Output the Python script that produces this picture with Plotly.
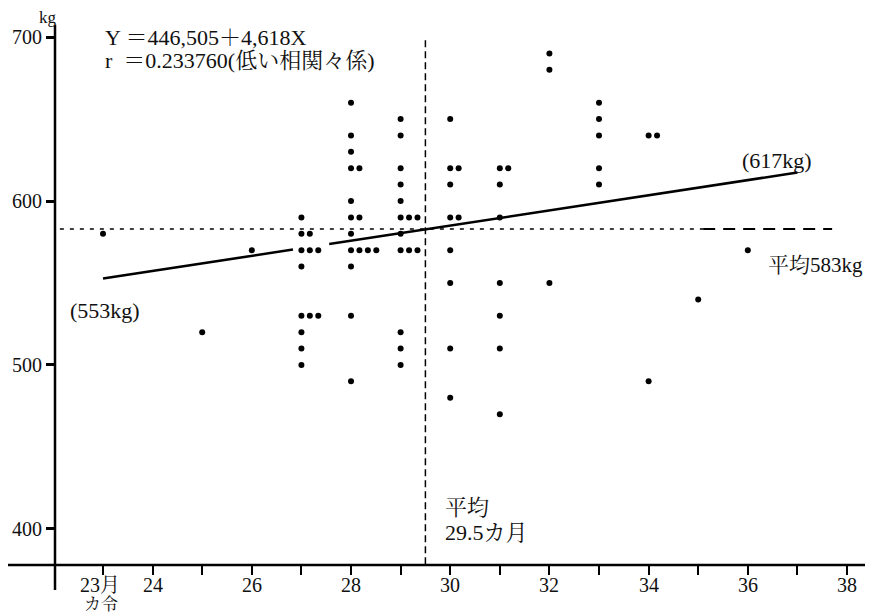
import plotly.graph_objects as go

# ---- data ----
age_months = (
    [23, 25, 26]
    + [27] * 13
    + [28] * 16
    + [29] * 15
    + [30] * 10
    + [31] * 8
    + [32] * 3
    + [33] * 5
    + [34] * 3
    + [35, 36]
)
weight_kg = (
    [580, 520, 570]
    + [590, 580, 580, 570, 570, 570, 560, 530, 530, 530, 520, 510, 500]
    + [660, 640, 630, 620, 620, 600, 590, 590, 580, 570, 570, 570, 570, 560, 530, 490]
    + [650, 640, 620, 610, 600, 590, 590, 590, 580, 570, 570, 570, 520, 510, 500]
    + [650, 620, 620, 610, 590, 590, 570, 550, 510, 480]
    + [620, 620, 610, 590, 550, 530, 510, 470]
    + [690, 680, 550]
    + [660, 650, 640, 620, 610]
    + [640, 640, 490]
    + [540, 570]
)
reg_intercept = 446.505
reg_slope = 4.618
reg_x_segments = [[23, 26.83], [27.56, 37]]
mean_age = 29.5
mean_weight = 583
x_tick_vals = list(range(23, 39))
x_label_vals = [23, 24, 26, 28, 30, 32, 34, 36, 38]
x_label_text = ["23月", "24", "26", "28", "30", "32", "34", "36", "38"]
x_unit_text = "カ令"
y_tick_vals = [400, 500, 600, 700]

FONT = "Liberation Serif, Noto Serif CJK JP, Noto Sans CJK JP, serif"

# page offset (default body margin of the html page) compensated in the figure size
W, H = 865, 607
L, T, B = 47, 22, 50
PH = H - T - B  # plot height
PW = W - L      # plot width

# side-by-side placement of identical values (as drawn in the original)
seen = {}
px = []
for m, w in zip(age_months, weight_kg):
    k = seen.get((m, w), 0)
    seen[(m, w)] = k + 1
    px.append(m + 0.17 * k)

fig = go.Figure()

# regression line (drawn with a small break like the original)
rx, ry = [], []
for a, b in reg_x_segments:
    rx += [a, b, None]
    ry += [reg_intercept + reg_slope * a, reg_intercept + reg_slope * b, None]
fig.add_trace(go.Scatter(x=rx, y=ry, mode="lines", line=dict(color="black", width=2.5),
                         hoverinfo="skip", connectgaps=False))

# mean weight line: fine dashes then coarse dashes
fig.add_trace(go.Scatter(x=[22.13, 35.1], y=[mean_weight, mean_weight], mode="lines",
                         line=dict(color="black", width=1.5, dash="4px,6px"), hoverinfo="skip"))
fig.add_trace(go.Scatter(x=[35.1, 37.7], y=[mean_weight, mean_weight], mode="lines",
                         line=dict(color="black", width=2, dash="12px,8px"), hoverinfo="skip"))
# mean age line
fig.add_trace(go.Scatter(x=[mean_age, mean_age], y=[698, 378], mode="lines",
                         line=dict(color="black", width=1.5, dash="7px,4px"), hoverinfo="skip"))

# points
fig.add_trace(go.Scatter(x=px, y=weight_kg, mode="markers",
                         marker=dict(color="black", size=6), hoverinfo="x+y"))

ann = dict(showarrow=False, font=dict(family=FONT, size=22, color="#111"),
           xanchor="left", yanchor="middle")
fig.add_annotation(x=23.0, y=700, text="Y ＝446,505＋4,618X", **ann)
fig.add_annotation(x=23.0, y=686, text="r  ＝0.233760(低い相関々係)", **ann)
fig.add_annotation(x=35.85, y=625, text="(617kg)", **ann)
fig.add_annotation(x=36.36, y=561, text="平均583kg",
                   showarrow=False, xanchor="left", yanchor="middle",
                   font=dict(family=FONT, size=21, color="#111"))
fig.add_annotation(x=22.3, y=533.5, text="(553kg)", **ann)
fig.add_annotation(x=29.85, y=413, text="平均", **ann)
fig.add_annotation(x=29.85, y=398, text="29.5カ月", **ann)
fig.add_annotation(xref="paper", yref="paper", x=-7 / PW, y=(565 - 18) / PH, text="kg",
                   showarrow=False, xanchor="center", yanchor="middle",
                   font=dict(family=FONT, size=17, color="#111"))

# x tick labels placed as annotations (closer to the axis, unit on a second line)
for v, t in zip(x_label_vals, x_label_text):
    fig.add_annotation(x=v - (0.06 if v == 23 else 0), xref="x", yref="paper", y=-20 / PH,
                       text=t, showarrow=False, xanchor="center", yanchor="middle",
                       font=dict(family=FONT, size=20, color="#111"))
fig.add_annotation(x=22.95, xref="x", yref="paper", y=-39 / PH, text=x_unit_text,
                   showarrow=False, xanchor="center", yanchor="middle",
                   font=dict(family=FONT, size=17, color="#111"))

# axis lines extended past the origin like the original
fig.add_shape(type="line", xref="paper", yref="paper", x0=-L / PW, x1=1, y0=0, y1=0,
              line=dict(color="black", width=2.5))
fig.add_shape(type="line", xref="paper", yref="paper", x0=0, x1=0, y0=-25 / PH, y1=1.01,
              line=dict(color="black", width=2.5))

fig.update_layout(
    width=W, height=H,
    margin=dict(l=L, r=0, t=T, b=B, pad=0),
    paper_bgcolor="white", plot_bgcolor="white",
    showlegend=False,
    font=dict(family=FONT, size=20, color="#111"),
    xaxis=dict(range=[22.032, 38.524], tickvals=x_tick_vals, showticklabels=False,
               ticks="outside", ticklen=9, tickwidth=2, tickcolor="black",
               automargin=False, showgrid=False, zeroline=False, showline=False),
    yaxis=dict(range=[378, 704.3], tickvals=y_tick_vals,
               ticks="outside", ticklen=8, tickwidth=2.5, tickcolor="black",
               tickfont=dict(size=20), automargin=False,
               showgrid=False, zeroline=False, showline=False),
)

fig.write_html("out.html")
